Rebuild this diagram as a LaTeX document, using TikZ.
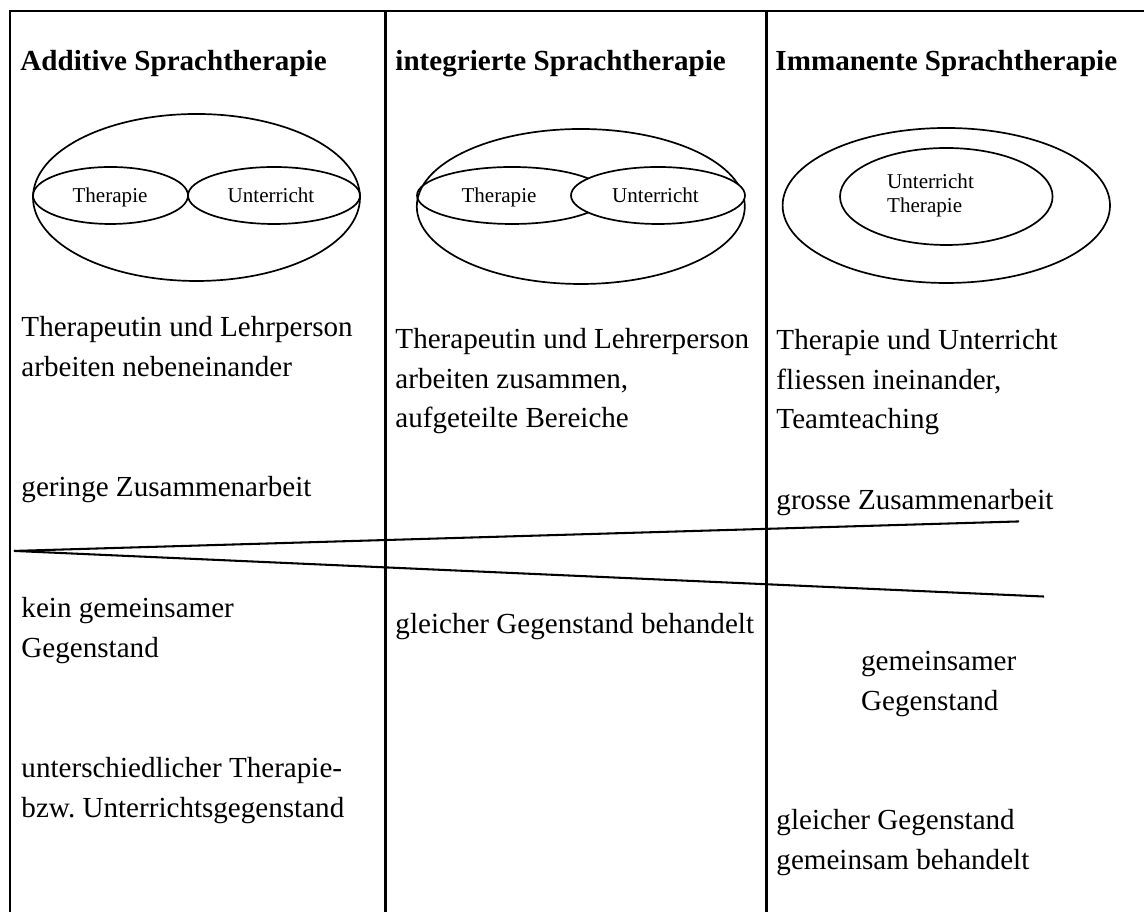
\documentclass[tikz,border=0pt]{standalone}
\usepackage{fontspec}
\setmainfont{Liberation Serif}
\usepackage{tikz}
\usetikzlibrary{positioning}
\frenchspacing
\tikzset{
  txt/.style={anchor=base west, inner sep=0pt, align=left, font=\fontsize{12}{16.3}\selectfont},
  head/.style={txt, font=\fontsize{12}{16.3}\selectfont\bfseries},
  lbl/.style={inner sep=0pt, font=\fontsize{8.7}{10.3}\selectfont},
  rule/.style={line width=0.85pt},
  oval/.style={line width=0.7pt}
}

\begin{document}
\begin{tikzpicture}[scale=1.45]
  \useasboundingbox (0,0) rectangle (11.44,9.12);

  % --- Table frame ---
  \draw[rule] (0.10,0) -- (0.10,9.01) -- (11.44,9.01);
  \draw[rule] (3.855,0) -- (3.855,9.01);
  \draw[rule] (7.665,0) -- (7.665,9.01);

  % --- Headings ---
  \node[head] (hadd) at (0.20,8.41) {Additive Sprachtherapie};
  \node[head] (hint) at (3.95,8.41) {integrierte Sprachtherapie};
  \node[head] (himm) at (7.75,8.41) {Immanente Sprachtherapie};

  % --- Left diagram: side by side ---
  \draw[oval] (1.965,7.145) ellipse (1.635 and 0.835);
  \draw[oval] (1.105,7.165) ellipse (0.775 and 0.285);
  \draw[oval] (2.74,7.165) ellipse (0.86 and 0.285);
  \node[lbl, anchor=base] (thA) at (1.10,7.09) {Therapie};
  \node[lbl, anchor=base] (unA) at (2.71,7.09) {Unterricht};

  % --- Middle diagram: overlapping ---
  \draw[oval] (5.808,7.055) ellipse (1.64 and 0.775);
  \draw[oval] (5.12,7.165) ellipse (0.95 and 0.285);
  \draw[oval, fill=white] (6.58,7.165) ellipse (0.87 and 0.285);
  \node[lbl, anchor=base] (thB) at (4.99,7.09) {Therapie};
  \node[lbl, anchor=base] (unB) at (6.555,7.09) {Unterricht};

  % --- Right diagram: nested ---
  \draw[oval] (9.463,7.065) ellipse (1.637 and 0.775);
  \draw[oval] (9.463,7.155) ellipse (1.063 and 0.485);
  \node[lbl, anchor=base west, align=left] (unC) at (8.867,6.99) {Unterricht\\Therapie};

  % --- Cooperation (multi-line nodes sit on their last line) ---
  \node[txt] (coopA) at (0.21,5.355) {Therapeutin und Lehrperson\\arbeiten nebeneinander};
  \node[txt] (coopB) at (3.95,4.84) {Therapeutin und Lehrerperson\\arbeiten zusammen,\\aufgeteilte Bereiche};
  \node[txt] (coopC) at (7.76,4.83) {Therapie und Unterricht\\fliessen ineinander,\\Teamteaching};
  \node[txt] (lowA) at (0.21,4.15) {geringe Zusammenarbeit};
  \node[txt] (highC) at (7.76,4.02) {grosse Zusammenarbeit};

  % wedge
  \coordinate (apex) at (0.14,3.61);
  \coordinate (upend) at (10.19,3.905);
  \coordinate (lowend) at (10.44,3.154);
  \draw[rule] (apex) -- (upend);
  \draw[rule] (apex) -- (lowend);

  % --- Subject matter ---
  \node[txt] (subjA) at (0.21,2.545) {kein gemeinsamer\\Gegenstand};
  \node[txt] (subjB) at (3.95,2.78) {gleicher Gegenstand behandelt};
  \node[txt] (subjC) at (8.607,2.015) {gemeinsamer\\Gegenstand};
  \node[txt] (diffA) at (0.21,0.945) {unterschiedlicher Therapie-\\bzw. Unterrichtsgegenstand};
  \node[txt] (sameC) at (7.76,0.425) {gleicher Gegenstand\\gemeinsam behandelt};
\end{tikzpicture}
\end{document}
